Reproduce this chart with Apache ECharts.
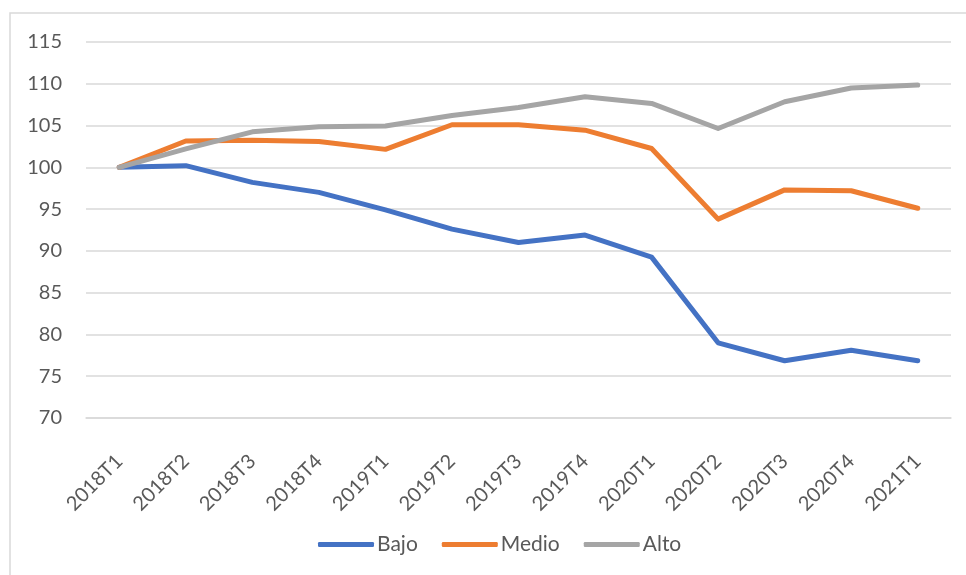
<!DOCTYPE html>
<html>
<head>
<meta charset="utf-8">
<script src="https://cdn.jsdelivr.net/npm/echarts@6/dist/echarts.min.js"></script>
<style>
  html, body { margin: 0; padding: 0; background: #fff; }
  #chart { width: 966px; height: 575px; }
</style>
</head>
<body>
<div id="chart"></div>
<script>
// trimestres
let categories = ['2018T1','2018T2','2018T3','2018T4','2019T1','2019T2','2019T3','2019T4','2020T1','2020T2','2020T3','2020T4','2021T1'];
let bajo  = [100, 100.2, 98.2, 97.0, 94.9, 92.6, 91.0, 91.9, 89.25, 79.0, 76.85, 78.1, 76.85];
let medio = [100, 103.15, 103.25, 103.1, 102.15, 105.1, 105.1, 104.45, 102.25, 93.8, 97.3, 97.2, 95.1];
let alto  = [100, 102.2, 104.25, 104.85, 104.95, 106.2, 107.15, 108.45, 107.65, 104.65, 107.85, 109.5, 109.85];
let yTicks = [70, 115, 5]; // min, max, paso

let font = 'Lato, "Open Sans", sans-serif';
let txtColor = '#595959';

function serie(name, data, color){
    return {
        name: name,
        type: 'line',
        data: data,
        symbol: 'none',
        lineStyle: { width: 5, color: color, cap: 'round', join: 'round' },
        itemStyle: { color: color }
    };
}

let chart = echarts.init(document.getElementById('chart'));
chart.setOption({
    animation: false,
    textStyle: { fontFamily: font },
    graphic: [{
        type: 'rect',
        shape: { x: 10, y: 13, width: 1000, height: 1000 },
        style: { fill: 'none', stroke: '#d9d9d9', lineWidth: 1.5 },
        silent: true
    }],
    grid: { left: 86, right: 15, top: 42, bottom: 157 },
    xAxis: {
        type: 'category',
        data: categories,
        boundaryGap: true,
        axisLine: { show: true, lineStyle: { color: '#d9d9d9', width: 1.5 } },
        axisTick: { show: false },
        axisLabel: {
            rotate: 45,
            margin: 40,
            color: txtColor,
            fontSize: 20,
            fontFamily: font,
            interval: 0
        }
    },
    yAxis: {
        type: 'value',
        min: yTicks[0],
        max: yTicks[1],
        interval: yTicks[2],
        axisLine: { show: false },
        axisTick: { show: false },
        splitLine: { lineStyle: { color: '#d9d9d9', width: 1.5 } },
        axisLabel: { color: txtColor, fontSize: 20, fontFamily: font, margin: 24 }
    },
    legend: {
        bottom: 15,
        left: 313,
        itemWidth: 56,
        itemHeight: 5,
        itemGap: 24,
        icon: 'roundRect',
        textStyle: { color: txtColor, fontSize: 21, fontFamily: font, padding: [0, 0, 0, -2] },
        data: ['Bajo', 'Medio', 'Alto']
    },
    series: [
        serie('Bajo', bajo, '#4472c4'),
        serie('Medio', medio, '#ed7d31'),
        serie('Alto', alto, '#a5a5a5')
    ]
});
</script>
</body>
</html>
